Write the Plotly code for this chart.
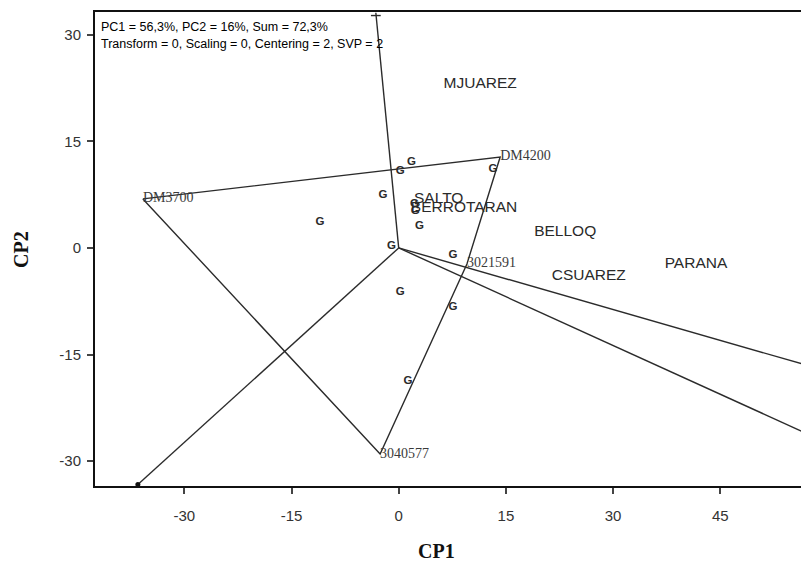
import plotly.graph_objects as go

# Polygon vertices (vertex genotypes) of the GGE biplot
vertex_names = ["DM3700", "DM4200", "3021591", "3040577"]
vertex_x = [-35.8, 14.2, 9.55, -2.6]
vertex_y = [6.9, 12.8, -2.25, -29.0]

# Rays drawn from the origin, perpendicular to the polygon sides
ray_end_x = [-3.2, -36.5, 56.4, 56.4]
ray_end_y = [33.1, -33.3, -16.3, -25.8]

# Remaining genotypes, plotted as "G"
geno_x = [1.8, 0.2, -2.2, -11.0, 2.9, 2.2, 2.3, -1.0, 7.6, 13.2, 0.2, 7.6, 1.3]
geno_y = [12.1, 10.8, 7.5, 3.7, 3.1, 6.2, 5.2, 0.3, -1.0, 11.1, -6.2, -8.3, -18.7]

# Environments
env_names = ["MJUAREZ", "SALTO", "BERROTARAN", "BELLOQ", "CSUAREZ", "PARANA"]
env_x = [11.4, 5.6, 9.15, 23.3, 26.6, 41.6]
env_y = [23.0, 6.9, 5.6, 2.25, -3.9, -2.25]

x_ticks = [-30, -15, 0, 15, 30, 45]
x_ticktext = ["-30", "-15", "0", "15", "30", "45"]
y_ticks = [-30, -15, 0, 15, 30]
y_ticktext = ["-30", "-15", "0", "15", "30"]

SANS = "Liberation Sans, Arial, sans-serif"
SERIF = "Liberation Serif, Times New Roman, serif"
LINE = "#2b2b2b"

fig = go.Figure()

# polygon
fig.add_trace(go.Scatter(
    x=vertex_x + [vertex_x[0]], y=vertex_y + [vertex_y[0]],
    mode="lines", line=dict(color=LINE, width=1.4),
    hoverinfo="skip", showlegend=False))

# rays from origin
for ex, ey in zip(ray_end_x, ray_end_y):
    fig.add_trace(go.Scatter(
        x=[0, ex], y=[0, ey], mode="lines",
        line=dict(color=LINE, width=1.4),
        hoverinfo="skip", showlegend=False))

# ray end markers
fig.add_trace(go.Scatter(
    x=[ray_end_x[0]], y=[ray_end_y[0] - 0.4], mode="markers",
    marker=dict(symbol="line-ew", size=7, line=dict(color=LINE, width=1.4)),
    cliponaxis=False, hoverinfo="skip", showlegend=False))
fig.add_trace(go.Scatter(
    x=[ray_end_x[1]], y=[ray_end_y[1]], mode="markers",
    marker=dict(symbol="circle", size=5, color="#111"),
    cliponaxis=False, hoverinfo="skip", showlegend=False))

# genotypes
fig.add_trace(go.Scatter(
    x=geno_x, y=geno_y, mode="text", text=["<b>G</b>"] * len(geno_x),
    textfont=dict(family=SANS, size=11.5, color="#2a2a2a"),
    textposition="middle center", hoverinfo="skip", showlegend=False))

# vertex genotype labels
fig.add_trace(go.Scatter(
    x=vertex_x, y=vertex_y, mode="text", text=vertex_names,
    textfont=dict(family=SERIF, size=14, color="#3a3a3a"),
    textposition="middle right", hoverinfo="skip", showlegend=False))

# environment labels
fig.add_trace(go.Scatter(
    x=env_x, y=env_y, mode="text", text=env_names,
    textfont=dict(family=SANS, size=15.5, color="#2a2a2a"),
    textposition="middle center", hoverinfo="skip", showlegend=False))

axis_common = dict(
    showgrid=False, zeroline=False, showline=True,
    linecolor="#111", linewidth=2,
    ticks="outside", ticklen=6, tickwidth=1.5, tickcolor="#444",
    tickfont=dict(family=SANS, size=15, color="#333"),
)

fig.update_layout(
    width=801, height=565,
    margin=dict(l=95, r=0, t=12, b=79),
    paper_bgcolor="white", plot_bgcolor="white",
    xaxis=dict(range=[-42.5, 56.3], tickvals=x_ticks, ticktext=x_ticktext,
               mirror=True, ticklabelstandoff=9, **axis_common),
    yaxis=dict(range=[-33.5, 33.2], tickvals=y_ticks, ticktext=y_ticktext,
               mirror=False, ticklabelstandoff=3, **axis_common),
    annotations=[
        dict(text="PC1 = 56,3%, PC2 = 16%, Sum = 72,3%", xref="paper", yref="paper",
             x=0.006, y=0.987, xanchor="left", yanchor="top", showarrow=False,
             font=dict(family=SANS, size=12.5, color="#000")),
        dict(text="Transform = 0, Scaling = 0, Centering = 2, SVP = 2", xref="paper", yref="paper",
             x=0.006, y=0.951, xanchor="left", yanchor="top", showarrow=False,
             font=dict(family=SANS, size=12.5, color="#000")),
        dict(text="<b>CP1</b>", xref="paper", yref="paper", x=(436 - 95) / 706, y=-(551 - 486) / 474,
             xanchor="center", yanchor="middle", showarrow=False,
             font=dict(family=SERIF, size=20, color="#111")),
        dict(text="<b>CP2</b>", xref="paper", yref="paper", x=-(95 - 21) / 706, y=(486 - 250) / 474,
             xanchor="center", yanchor="middle", showarrow=False, textangle=-90,
             font=dict(family=SERIF, size=20, color="#111")),
    ],
)

fig.write_html("out.html")
